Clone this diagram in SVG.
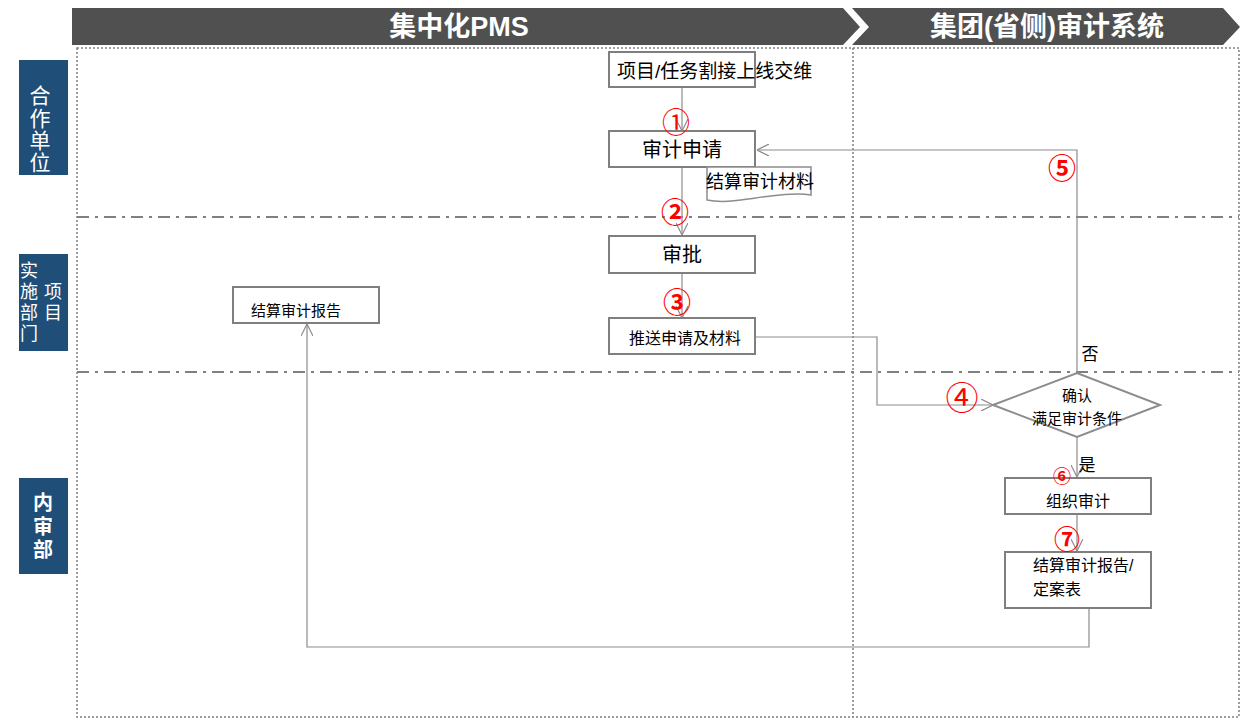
<svg xmlns="http://www.w3.org/2000/svg" width="1241" height="720" viewBox="0 0 1241 720">
<defs>
<style>
text{font-family:"Liberation Sans","Noto Sans CJK SC",sans-serif;}
.hdr{fill:#505050;}
.htx{fill:#fff;font-size:27px;font-weight:bold;text-anchor:middle;dominant-baseline:central;}
.lane{fill:#1F4E79;}
.ltx{fill:#fff;font-size:21px;text-anchor:middle;dominant-baseline:central;}
.box{fill:#fff;stroke:#7f7f7f;stroke-width:2;}
.t{fill:#000;text-anchor:middle;dominant-baseline:central;}
.tl{fill:#000;dominant-baseline:central;}
.con{fill:none;stroke:#8c8c8c;stroke-width:1.2;}
.num{fill:#ff0000;text-anchor:middle;dominant-baseline:central;font-family:"Noto Sans CJK SC","DejaVu Sans",sans-serif;}
.dot{fill:none;stroke:#808080;stroke-width:1.5;stroke-dasharray:2 2;}
.dd{fill:none;stroke:#808080;stroke-width:2;stroke-dasharray:12 6 3 6;}
</style>
<marker id="arr" viewBox="0 0 12 12" refX="12" refY="6" markerWidth="12" markerHeight="12" markerUnits="userSpaceOnUse" orient="auto">
<path d="M0,0 L12,6 L0,12" fill="none" stroke="#8c8c8c" stroke-width="1.2"/>
</marker>
</defs>
<rect width="1241" height="720" fill="#fff"/>
<g id="header">
<polygon class="hdr" points="72,8 843,8 860,27 843,45 72,45"/>
<polygon class="hdr" points="852,8 1223,8 1240,27 1223,45 852,45 869,27"/>
<text class="htx" x="459" y="27">集中化PMS</text>
<text class="htx" x="1047" y="27">集团(省侧)审计系统</text>
</g>
<g id="frame">
<rect class="dot" x="77" y="48" width="1162" height="669"/>
<line class="dot" x1="853" y1="48" x2="853" y2="717"/>
<line class="dd" x1="77" y1="217" x2="1239" y2="217"/>
<line class="dd" x1="77" y1="372" x2="1239" y2="372"/>
</g>
<g id="lane1">
<rect class="lane" x="19" y="60" width="49" height="115"/>
<text class="ltx" x="40" y="95">合</text>
<text class="ltx" x="40" y="118">作</text>
<text class="ltx" x="40" y="140">单</text>
<text class="ltx" x="40" y="162">位</text>
</g>
<g id="lane2">
<rect class="lane" x="19" y="254" width="49" height="97"/>
<text class="ltx" x="29" y="271" style="font-size:18px">实</text>
<text class="ltx" x="29" y="292" style="font-size:18px">施</text>
<text class="ltx" x="29" y="313" style="font-size:18px">部</text>
<text class="ltx" x="29" y="334" style="font-size:18px">门</text>
<text class="ltx" x="53" y="292" style="font-size:18px">项</text>
<text class="ltx" x="53" y="313" style="font-size:18px">目</text>
</g>
<g id="lane3">
<rect class="lane" x="19" y="478" width="49" height="96"/>
<text class="ltx" x="43" y="503" style="font-weight:bold;font-size:20px">内</text>
<text class="ltx" x="43" y="527" style="font-weight:bold;font-size:20px">审</text>
<text class="ltx" x="43" y="550" style="font-weight:bold;font-size:20px">部</text>
</g>
<g id="connectors">
<line class="con" x1="682" y1="88" x2="682" y2="131" marker-end="url(#arr)"/>
<line class="con" x1="682" y1="167" x2="682" y2="235" marker-end="url(#arr)"/>
<line class="con" x1="682" y1="273" x2="682" y2="318" marker-end="url(#arr)"/>
<polyline class="con" points="755,337 877,337 877,405 993,405" marker-end="url(#arr)"/>
<polyline class="con" points="1077,373 1077,150 757,150" marker-end="url(#arr)"/>
<line class="con" x1="1077" y1="437" x2="1077" y2="477" marker-end="url(#arr)"/>
<line class="con" x1="1077" y1="514" x2="1077" y2="551" marker-end="url(#arr)"/>
<polyline class="con" points="1089,608 1089,647 307,647 307,324" marker-end="url(#arr)"/>
<text class="t" x="1090" y="354" style="font-size:17px">否</text>
<text class="t" x="1087" y="465" style="font-size:17px">是</text>
</g>
<g id="n1">
<rect class="box" x="609" y="52" width="146" height="35"/>
<text class="tl" x="617" y="71" style="font-size:19px">项目/任务割接上线交维</text>
</g>
<g id="n2">
<rect class="box" x="609" y="131" width="146" height="36"/>
<text class="t" x="682" y="150" style="font-size:20px">审计申请</text>
</g>
<g id="n3">
<path d="M707,167 H811 V195 C795,192 770,196 748,199 C730,202 716,202 707,200 Z" fill="#fff" stroke="#8c8c8c" stroke-width="1.5"/>
<text class="tl" x="706" y="182" style="font-size:18px">结算审计材料</text>
</g>
<g id="n4">
<rect class="box" x="609" y="236" width="146" height="37"/>
<text class="t" x="682" y="255" style="font-size:20px">审批</text>
</g>
<g id="n5">
<rect class="box" x="609" y="318" width="146" height="36"/>
<text class="t" x="685" y="338" style="font-size:16px">推送申请及材料</text>
</g>
<g id="n6">
<polygon points="993,405 1077,373 1160,405 1077,437" fill="#fff" stroke="#8c8c8c" stroke-width="2"/>
<text class="t" x="1077" y="395" style="font-size:15px">确认</text>
<text class="t" x="1077" y="418" style="font-size:15px">满足审计条件</text>
</g>
<g id="n7">
<rect class="box" x="1005" y="478" width="146" height="36"/>
<text class="t" x="1078" y="501" style="font-size:16px">组织审计</text>
</g>
<g id="n8">
<rect class="box" x="1005" y="552" width="146" height="56"/>
<text class="tl" x="1033" y="565" style="font-size:16px">结算审计报告/</text>
<text class="tl" x="1033" y="589" style="font-size:16px">定案表</text>
</g>
<g id="n9">
<rect class="box" x="233" y="287" width="146" height="36"/>
<text class="t" x="296" y="310" style="font-size:15px">结算审计报告</text>
</g>
<g id="step-labels">
<text class="num" x="676" y="121" style="font-size:28px">①</text>
<text class="num" x="675" y="211" style="font-size:28px;font-weight:bold">②</text>
<text class="num" x="677" y="301" style="font-size:28px;font-weight:bold">③</text>
<text class="num" x="962" y="396" style="font-size:33px">④</text>
<text class="num" x="1062" y="167" style="font-size:28px;font-weight:bold">⑤</text>
<text class="num" x="1062" y="475" style="font-size:18px;font-weight:bold">⑥</text>
<text class="num" x="1067" y="537" style="font-size:26px;font-weight:bold">⑦</text>
</g>
</svg>
